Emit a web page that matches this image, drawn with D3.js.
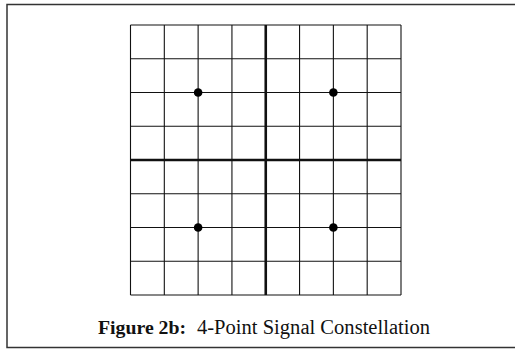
<!DOCTYPE html>
<html>
<head>
<meta charset="utf-8">
<script src="https://cdn.jsdelivr.net/npm/d3@7"></script>
<style>
  html, body { margin: 0; padding: 0; background: #fff; }
</style>
</head>
<body>
<div id="chart"></div>
<script>
var canvasWidth = 515;
var canvasHeight = 349;

/*Data: grid levels and constellation points*/
var gridLevels = [-4, -3, -2, -1, 0, 1, 2, 3, 4];
var pointI = [-2, 2, -2, 2];
var pointQ = [2, 2, -2, -2];
var captionBold = "Figure 2b:";
var captionText = "4-Point Signal Constellation";

var svg = d3.select("#chart")
    .append("svg")
    .attr("width", canvasWidth)
    .attr("height", canvasHeight);

/*Outer frame (right side runs off the page)*/
svg.append("rect")
    .attr("x", 7)
    .attr("y", 4.5)
    .attr("width", 530)
    .attr("height", 343)
    .attr("fill", "none")
    .attr("stroke", "#333")
    .attr("stroke-width", 1.5);

/*Scales*/
var xScale = d3.scaleLinear().domain([-4, 4]).range([130.5, 401]);
var yScale = d3.scaleLinear().domain([-4, 4]).range([295, 25]);

var grid = svg.append("g");

/*Vertical grid lines*/
grid.selectAll(".vline")
    .data(gridLevels)
    .enter()
    .append("line")
    .attr("class", "vline")
    .attr("x1", function(d){ return xScale(d); })
    .attr("x2", function(d){ return xScale(d); })
    .attr("y1", yScale(-4))
    .attr("y2", yScale(4))
    .attr("stroke", "#111")
    .attr("stroke-width", function(d){ return d === 0 ? 2.6 : 1.1; });

/*Horizontal grid lines*/
grid.selectAll(".hline")
    .data(gridLevels)
    .enter()
    .append("line")
    .attr("class", "hline")
    .attr("y1", function(d){ return yScale(d); })
    .attr("y2", function(d){ return yScale(d); })
    .attr("x1", xScale(-4))
    .attr("x2", xScale(4))
    .attr("stroke", "#111")
    .attr("stroke-width", function(d){ return d === 0 ? 2.6 : 1.1; });

/*Constellation points*/
svg.append("g")
    .selectAll(".dot")
    .data(pointI.map(function(d, i){ return {i: d, q: pointQ[i]}; }))
    .enter()
    .append("circle")
    .attr("class", "dot")
    .attr("cx", function(d){ return xScale(d.i); })
    .attr("cy", function(d){ return yScale(d.q); })
    .attr("r", 4.3)
    .attr("fill", "#000");

/*Caption*/
var caption = svg.append("text")
    .attr("x", 98)
    .attr("y", 333.5)
    .attr("text-anchor", "start")
    .attr("font-family", "'Liberation Serif', 'DejaVu Serif', serif")
    .attr("fill", "#111");

caption.append("tspan")
    .attr("font-weight", "bold")
    .attr("font-size", 19.8)
    .text(captionBold);

caption.append("tspan")
    .attr("x", 197)
    .attr("font-size", 20.5)
    .attr("textLength", 233)
    .attr("lengthAdjust", "spacingAndGlyphs")
    .text(captionText);
</script>
</body>
</html>
